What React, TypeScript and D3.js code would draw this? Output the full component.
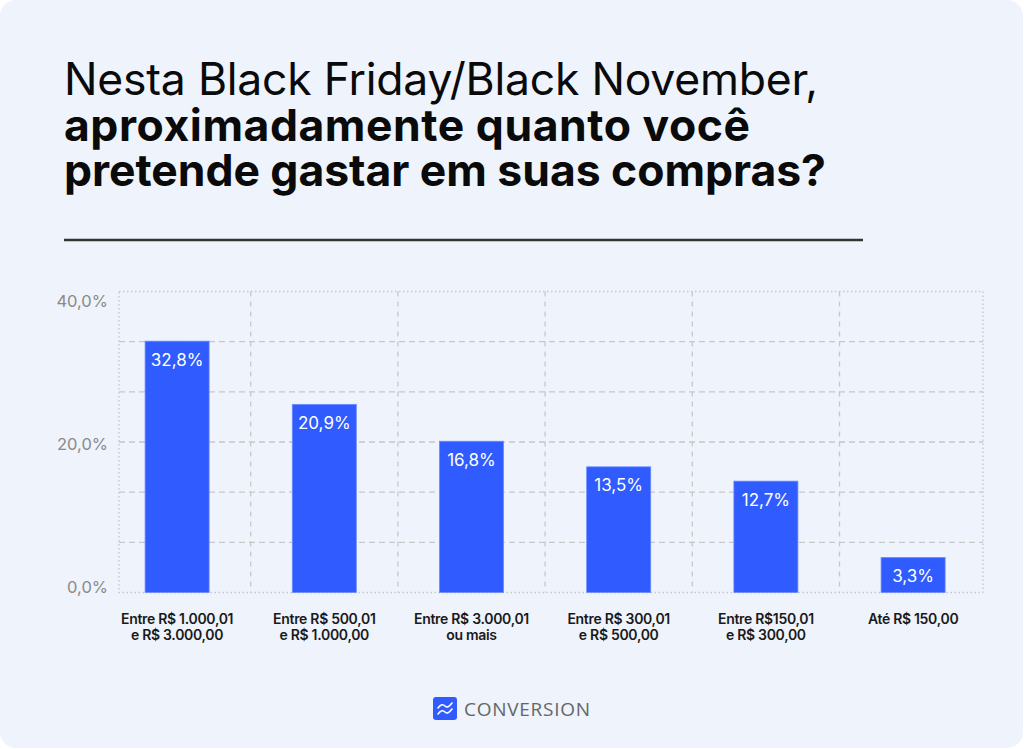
import React, { useEffect, useRef } from 'react';
import * as d3 from 'd3';

// categories (two lines each) and the percentages printed on the bars
const categories = [
  ['Entre R$ 1.000,01', 'e R$ 3.000,00'],
  ['Entre R$ 500,01', 'e R$ 1.000,00'],
  ['Entre R$ 3.000,01', 'ou mais'],
  ['Entre R$ 300,01', 'e R$ 500,00'],
  ['Entre R$150,01', 'e R$ 300,00'],
  ['Até R$ 150,00'],
];
const printedValues = ['32,8%', '20,9%', '16,8%', '13,5%', '12,7%', '3,3%'];
// bar heights as read against the axis in the picture
const barValues = [33.4, 25.0, 20.1, 16.7, 14.8, 4.65];
const yTickLabels = [0, 20, 40];

const titleLines = [
  { text: 'Nesta Black Friday/Black November,', bold: false, width: 754 },
  { text: 'aproximadamente quanto você', bold: true, width: 686 },
  { text: 'pretende gastar em suas compras?', bold: true, width: 762 },
];

const W = 1024;
const H = 749;

export default function App() {
  const svgRef = useRef<SVGSVGElement>(null);

  useEffect(() => {
    document.body.style.margin = '0';
    const svg = d3.select(svgRef.current);
    svg.selectAll('*').remove();

    // card
    svg
      .append('rect')
      .attr('x', 0)
      .attr('y', 0)
      .attr('width', W - 1)
      .attr('height', H - 1)
      .attr('rx', 16)
      .attr('fill', '#eef3fc');

    // title, one text per line
    svg
      .append('g')
      .selectAll('text')
      .data(titleLines)
      .join('text')
      .attr('x', 64)
      .attr('y', (_, i) => 95 + i * 45.5)
      .attr('font-family', 'Inter, sans-serif')
      .attr('font-size', 44.5)
      .attr('font-weight', (d) => (d.bold ? 700 : 400))
      .attr('fill', '#0a0a0a')
      .attr('textLength', (d) => d.width)
      .attr('lengthAdjust', 'spacing')
      .text((d) => d.text);

    svg
      .append('line')
      .attr('x1', 64)
      .attr('x2', 863)
      .attr('y1', 240)
      .attr('y2', 240)
      .attr('stroke', '#333')
      .attr('stroke-width', 2.5);

    // scales
    const x = d3
      .scaleBand<number>()
      .domain(d3.range(categories.length))
      .range([103.5, 986.7])
      .paddingInner(0.565)
      .paddingOuter(0.2825);
    const y = d3.scaleLinear().domain([0, 40]).range([592.5, 291.5]);
    const yLabel = d3.scaleLinear().domain([0, 40]).range([593, 307]);
    const left = 119;
    const right = 983;
    const gap = x.step() - x.bandwidth();

    const grid = svg.append('g').attr('stroke', '#c8c8c8').attr('fill', 'none');
    const yTicks = d3.range(0, 40.001, 40 / 6);
    grid
      .selectAll('.hgrid')
      .data(yTicks.slice(1, -1))
      .join('line')
      .attr('x1', left)
      .attr('x2', right)
      .attr('y1', (d) => y(d))
      .attr('y2', (d) => y(d))
      .attr('stroke-width', 1.3)
      .attr('stroke-dasharray', '6 4');
    grid
      .selectAll('.vgrid')
      .data(d3.range(1, categories.length))
      .join('line')
      .attr('x1', (i) => x(i)! - gap / 2)
      .attr('x2', (i) => x(i)! - gap / 2)
      .attr('y1', y(40))
      .attr('y2', y(0))
      .attr('stroke-width', 1.3)
      .attr('stroke-dasharray', '5 5');
    grid
      .append('rect')
      .attr('x', left)
      .attr('y', y(40))
      .attr('width', right - left)
      .attr('height', y(0) - y(40))
      .attr('stroke-width', 1.4)
      .attr('stroke-dasharray', '1.5 2.5');

    // y labels
    svg
      .append('g')
      .selectAll('text')
      .data(yTickLabels)
      .join('text')
      .attr('x', 108)
      .attr('y', (d) => yLabel(d))
      .attr('text-anchor', 'end')
      .attr('font-family', 'Inter, sans-serif')
      .attr('font-size', 16.5)
      .attr('fill', '#8a8a8a')
      .text((d) => d3.format('.1f')(d).replace('.', ',') + '%');

    // bars
    const bars = svg.append('g');
    bars
      .selectAll('rect')
      .data(barValues)
      .join('rect')
      .attr('x', (_, i) => x(i)!)
      .attr('y', (d) => y(d))
      .attr('width', x.bandwidth())
      .attr('height', (d) => y(0) - y(d))
      .attr('fill', '#2f5bff')
      .attr('stroke', '#6d8bff')
      .attr('stroke-width', 0.8);
    bars
      .selectAll('text')
      .data(barValues)
      .join('text')
      .attr('x', (_, i) => x(i)! + x.bandwidth() / 2)
      .attr('y', (d) => y(d) + 24.5)
      .attr('text-anchor', 'middle')
      .attr('font-family', 'Inter, sans-serif')
      .attr('font-size', 17)
      .attr('fill', '#ffffff')
      .text((_, i) => printedValues[i]);

    // x labels
    const xl = svg
      .append('g')
      .selectAll('text')
      .data(categories)
      .join('text')
      .attr('text-anchor', 'middle')
      .attr('font-family', 'Inter, sans-serif')
      .attr('font-weight', 600)
      .attr('font-size', 14)
      .attr('letter-spacing', -0.3)
      .attr('fill', '#1a1a1a');
    xl.each(function (lines, i) {
      d3.select(this)
        .selectAll('tspan')
        .data(lines)
        .join('tspan')
        .attr('x', x(i)! + x.bandwidth() / 2)
        .attr('y', (_, j) => 624 + j * 16)
        .text((t) => t);
    });

    // logo
    const logo = svg.append('g').attr('transform', 'translate(433,697)');
    logo.append('rect').attr('width', 24).attr('height', 23).attr('rx', 3).attr('fill', '#2f5bff');
    logo
      .append('path')
      .attr('d', 'M5 11 C8 7, 10 7, 12 9 S16 10, 19 6 M5 17 C8 13, 10 13, 12 15 S16 16, 19 12')
      .attr('fill', 'none')
      .attr('stroke', '#fff')
      .attr('stroke-width', 1.6)
      .attr('stroke-linecap', 'round');
    svg
      .append('text')
      .attr('x', 464)
      .attr('y', 716)
      .attr('font-family', '"Open Sans", sans-serif')
      .attr('font-size', 19)
      .attr('fill', '#666')
      .attr('textLength', 126)
      .attr('lengthAdjust', 'spacing')
      .text('CONVERSION');
  }, []);

  return <svg ref={svgRef} width={W} height={H} style={{ display: 'block', background: '#fff' }} />;
}
